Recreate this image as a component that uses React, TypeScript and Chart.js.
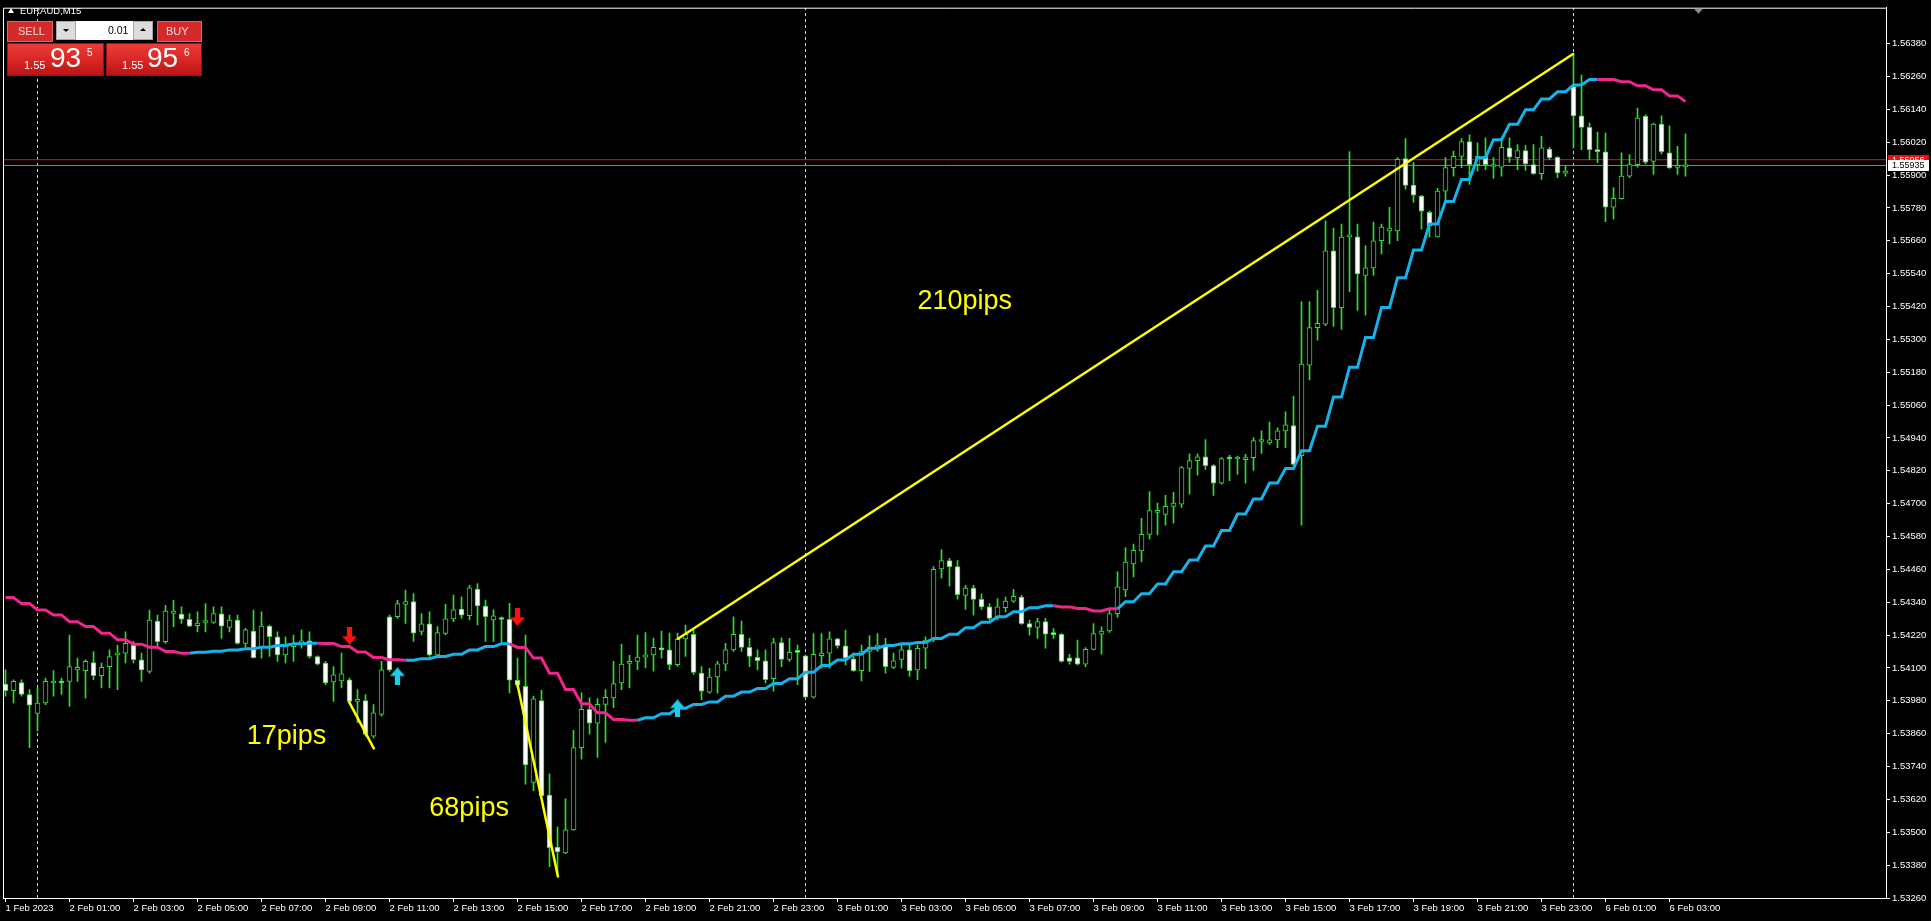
import React, { useEffect, useRef } from "react";
import { Chart, registerables } from "chart.js";

Chart.register(...registerables);

// ---------------- data (EURAUD M15, bar 0 = 1 Feb 23:00) ----------------
const opens = [
  1.54041, 1.54017, 1.54047, 1.54003, 1.53934, 1.53972, 1.54045, 1.54048, 1.54051, 1.54093,
  1.54090, 1.54120, 1.54072, 1.54105, 1.54148, 1.54154, 1.54184, 1.54130, 1.54087, 1.54271,
  1.54196, 1.54299, 1.54297, 1.54278, 1.54254, 1.54266, 1.54266, 1.54298, 1.54248, 1.54275,
  1.54190, 1.54235, 1.54174, 1.54253, 1.54214, 1.54148, 1.54178, 1.54187, 1.54199, 1.54142,
  1.54118, 1.54049, 1.54053, 1.54057, 1.53978, 1.53981, 1.53851, 1.53930, 1.54287, 1.54287,
  1.54332, 1.54342, 1.54233, 1.54261, 1.54148, 1.54226, 1.54279, 1.54315, 1.54291, 1.54388,
  1.54326, 1.54275, 1.54279, 1.54278, 1.54055, 1.54033, 1.53682, 1.53981, 1.53636, 1.53446,
  1.53425, 1.53509, 1.53809, 1.53949, 1.53898, 1.53967, 1.53991, 1.54045, 1.54117, 1.54124,
  1.54139, 1.54148, 1.54168, 1.54166, 1.54112, 1.54206, 1.54223, 1.54081, 1.54012, 1.54067,
  1.54114, 1.54166, 1.54223, 1.54175, 1.54139, 1.54126, 1.54061, 1.54193, 1.54131, 1.54159,
  1.54144, 1.53993, 1.54145, 1.54154, 1.54206, 1.54181, 1.54133, 1.54090, 1.54160, 1.54176,
  1.54178, 1.54102, 1.54131, 1.54166, 1.54093, 1.54172, 1.54202, 1.54462, 1.54492, 1.54470,
  1.54365, 1.54392, 1.54351, 1.54323, 1.54287, 1.54320, 1.54344, 1.54359, 1.54262, 1.54248,
  1.54269, 1.54224, 1.54223, 1.54137, 1.54137, 1.54114, 1.54168, 1.54223, 1.54235, 1.54298,
  1.54385, 1.54480, 1.54527, 1.54588, 1.54668, 1.54661, 1.54690, 1.54698, 1.54829, 1.54857,
  1.54871, 1.54839, 1.54775, 1.54865, 1.54863, 1.54861, 1.54868, 1.54927, 1.54922, 1.54933,
  1.54966, 1.54985, 1.54875, 1.55206, 1.55343, 1.55355, 1.55623, 1.55416, 1.55674, 1.55674,
  1.55533, 1.55561, 1.55660, 1.55696, 1.55696, 1.55960, 1.55863, 1.55823, 1.55764, 1.55674,
  1.55841, 1.55927, 1.55968, 1.56022, 1.55938, 1.55968, 1.55931, 1.55929, 1.55999, 1.55963,
  1.55989, 1.55938, 1.55905, 1.55995, 1.55965, 1.55907, 1.56223, 1.56116, 1.56074, 1.55993,
  1.55985, 1.55783, 1.55814, 1.55896, 1.55938, 1.56114, 1.55950, 1.56086, 1.55981, 1.55928,
  1.55930,
];

const highs = [
  1.54093, 1.54057, 1.54057, 1.54021, 1.54027, 1.54063, 1.54090, 1.54063, 1.54220, 1.54136,
  1.54130, 1.54160, 1.54118, 1.54166, 1.54184, 1.54232, 1.54196, 1.54154, 1.54311, 1.54293,
  1.54329, 1.54347, 1.54323, 1.54299, 1.54305, 1.54335, 1.54323, 1.54323, 1.54293, 1.54293,
  1.54245, 1.54311, 1.54305, 1.54257, 1.54232, 1.54214, 1.54220, 1.54239, 1.54232, 1.54144,
  1.54124, 1.54105, 1.54154, 1.54063, 1.54021, 1.54003, 1.53966, 1.54124, 1.54293, 1.54347,
  1.54384, 1.54372, 1.54299, 1.54305, 1.54251, 1.54332, 1.54366, 1.54360, 1.54402, 1.54408,
  1.54348, 1.54312, 1.54287, 1.54336, 1.54136, 1.54220, 1.53997, 1.54018, 1.53713, 1.53519,
  1.53622, 1.53872, 1.54009, 1.53991, 1.53988, 1.54021, 1.54124, 1.54187, 1.54146, 1.54220,
  1.54229, 1.54209, 1.54235, 1.54227, 1.54227, 1.54257, 1.54239, 1.54105, 1.54099, 1.54124,
  1.54190, 1.54287, 1.54271, 1.54208, 1.54166, 1.54166, 1.54208, 1.54210, 1.54208, 1.54184,
  1.54148, 1.54226, 1.54226, 1.54232, 1.54208, 1.54238, 1.54154, 1.54184, 1.54218, 1.54226,
  1.54208, 1.54154, 1.54184, 1.54184, 1.54184, 1.54214, 1.54470, 1.54532, 1.54500, 1.54492,
  1.54402, 1.54402, 1.54371, 1.54335, 1.54353, 1.54359, 1.54387, 1.54365, 1.54275, 1.54281,
  1.54281, 1.54244, 1.54226, 1.54150, 1.54202, 1.54174, 1.54262, 1.54250, 1.54317, 1.54451,
  1.54540, 1.54552, 1.54646, 1.54744, 1.54702, 1.54730, 1.54741, 1.54835, 1.54882, 1.54882,
  1.54934, 1.54843, 1.54868, 1.54876, 1.54874, 1.54880, 1.54941, 1.54966, 1.54998, 1.54977,
  1.55035, 1.55093, 1.55438, 1.55438, 1.55479, 1.55733, 1.55706, 1.55721, 1.55986, 1.55721,
  1.55642, 1.55728, 1.55721, 1.55782, 1.55964, 1.56033, 1.55946, 1.55826, 1.55768, 1.55851,
  1.55964, 1.55987, 1.56033, 1.56047, 1.56018, 1.56036, 1.55964, 1.56036, 1.56036, 1.56011,
  1.56008, 1.56011, 1.56041, 1.56001, 1.55967, 1.55932, 1.56344, 1.56265, 1.56090, 1.56057,
  1.56053, 1.55854, 1.55981, 1.55975, 1.56144, 1.56120, 1.56090, 1.56116, 1.56080, 1.56005,
  1.56050,
];

const lows = [
  1.53997, 1.53972, 1.53997, 1.53809, 1.53869, 1.53966, 1.53997, 1.54003, 1.53960, 1.54051,
  1.53990, 1.54057, 1.54027, 1.54027, 1.54021, 1.54118, 1.54118, 1.54051, 1.54081, 1.54172,
  1.54190, 1.54251, 1.54263, 1.54251, 1.54232, 1.54232, 1.54263, 1.54208, 1.54232, 1.54187,
  1.54178, 1.54136, 1.54136, 1.54142, 1.54124, 1.54118, 1.54124, 1.54172, 1.54136, 1.54111,
  1.54039, 1.53978, 1.54027, 1.53972, 1.53900, 1.53851, 1.53845, 1.53924, 1.54087, 1.54281,
  1.54263, 1.54197, 1.54221, 1.54142, 1.54142, 1.54221, 1.54269, 1.54281, 1.54275, 1.54257,
  1.54197, 1.54197, 1.54191, 1.54009, 1.54027, 1.53676, 1.53652, 1.53628, 1.53374, 1.53344,
  1.53422, 1.53507, 1.53767, 1.53858, 1.53773, 1.53828, 1.53955, 1.54021, 1.54027, 1.54094,
  1.54100, 1.54088, 1.54136, 1.54094, 1.54106, 1.54142, 1.54076, 1.53984, 1.54008, 1.54008,
  1.54090, 1.54160, 1.54160, 1.54105, 1.54093, 1.54045, 1.54015, 1.54105, 1.54124, 1.54039,
  1.53990, 1.53990, 1.54099, 1.54099, 1.54172, 1.54111, 1.54087, 1.54053, 1.54087, 1.54160,
  1.54081, 1.54097, 1.54099, 1.54069, 1.54057, 1.54097, 1.54196, 1.54428, 1.54399, 1.54351,
  1.54314, 1.54293, 1.54314, 1.54275, 1.54275, 1.54305, 1.54339, 1.54259, 1.54220, 1.54208,
  1.54172, 1.54208, 1.54121, 1.54114, 1.54111, 1.54105, 1.54166, 1.54150, 1.54230, 1.54285,
  1.54360, 1.54432, 1.54487, 1.54570, 1.54586, 1.54621, 1.54629, 1.54686, 1.54735, 1.54804,
  1.54825, 1.54730, 1.54771, 1.54784, 1.54807, 1.54775, 1.54821, 1.54883, 1.54916, 1.54904,
  1.54904, 1.54839, 1.54621, 1.55152, 1.55297, 1.55350, 1.55347, 1.55336, 1.55474, 1.55406,
  1.55388, 1.55533, 1.55612, 1.55648, 1.55660, 1.55848, 1.55800, 1.55702, 1.55673, 1.55673,
  1.55804, 1.55896, 1.55927, 1.55866, 1.55914, 1.55920, 1.55888, 1.55896, 1.55946, 1.55920,
  1.55917, 1.55902, 1.55884, 1.55957, 1.55890, 1.55896, 1.55999, 1.55993, 1.55957, 1.55945,
  1.55730, 1.55739, 1.55812, 1.55890, 1.55929, 1.55941, 1.55902, 1.55977, 1.55924, 1.55902,
  1.55896,
];

const closes = [
  1.54017, 1.54051, 1.54003, 1.53964, 1.53972, 1.54051, 1.54051, 1.54045, 1.54105, 1.54102,
  1.54124, 1.54072, 1.54102, 1.54142, 1.54154, 1.54190, 1.54130, 1.54093, 1.54275, 1.54196,
  1.54308, 1.54308, 1.54278, 1.54253, 1.54264, 1.54268, 1.54299, 1.54253, 1.54275, 1.54190,
  1.54239, 1.54138, 1.54253, 1.54214, 1.54148, 1.54178, 1.54190, 1.54199, 1.54142, 1.54114,
  1.54045, 1.54075, 1.54079, 1.53978, 1.53983, 1.53857, 1.53936, 1.54093, 1.54093, 1.54335,
  1.54342, 1.54227, 1.54261, 1.54148, 1.54229, 1.54279, 1.54312, 1.54293, 1.54393, 1.54327,
  1.54287, 1.54290, 1.54277, 1.54055, 1.54037, 1.53746, 1.53987, 1.53634, 1.53444, 1.53428,
  1.53509, 1.53809, 1.53949, 1.53898, 1.53967, 1.53993, 1.54043, 1.54114, 1.54124, 1.54140,
  1.54148, 1.54175, 1.54166, 1.54112, 1.54205, 1.54223, 1.54084, 1.54015, 1.54067, 1.54115,
  1.54166, 1.54223, 1.54175, 1.54142, 1.54127, 1.54057, 1.54193, 1.54131, 1.54157, 1.54157,
  1.53993, 1.54150, 1.54154, 1.54206, 1.54181, 1.54137, 1.54090, 1.54160, 1.54175, 1.54178,
  1.54105, 1.54126, 1.54166, 1.54090, 1.54172, 1.54202, 1.54460, 1.54492, 1.54470, 1.54368,
  1.54392, 1.54350, 1.54323, 1.54281, 1.54323, 1.54344, 1.54362, 1.54262, 1.54248, 1.54269,
  1.54223, 1.54222, 1.54124, 1.54124, 1.54114, 1.54168, 1.54226, 1.54235, 1.54299, 1.54396,
  1.54487, 1.54530, 1.54588, 1.54675, 1.54673, 1.54690, 1.54702, 1.54832, 1.54857, 1.54871,
  1.54839, 1.54775, 1.54865, 1.54863, 1.54866, 1.54868, 1.54930, 1.54929, 1.54933, 1.54966,
  1.54988, 1.54843, 1.55210, 1.55343, 1.55358, 1.55623, 1.55416, 1.55673, 1.55676, 1.55539,
  1.55561, 1.55660, 1.55710, 1.55706, 1.55957, 1.55862, 1.55826, 1.55768, 1.55714, 1.55841,
  1.55927, 1.55968, 1.56022, 1.55938, 1.55968, 1.55938, 1.55933, 1.56001, 1.55965, 1.55989,
  1.55941, 1.55905, 1.55999, 1.55963, 1.55908, 1.55909, 1.56116, 1.56074, 1.55993, 1.55985,
  1.55783, 1.55815, 1.55896, 1.55938, 1.56108, 1.55947, 1.56086, 1.55985, 1.55926, 1.55930,
  1.55935,
];

// moving average, one value per 30 minutes (two M15 bars)
const maHalfHour = [
  1.54357, 1.54335, 1.54312, 1.54293, 1.54269, 1.54251, 1.54227, 1.54203, 1.54187, 1.54176,
  1.54160, 1.54154, 1.54157, 1.54161, 1.54166, 1.54170, 1.54176, 1.54182, 1.54188, 1.54190,
  1.54189, 1.54178, 1.54158, 1.54138, 1.54130, 1.54128, 1.54134, 1.54142, 1.54150, 1.54166,
  1.54178, 1.54188, 1.54175, 1.54136, 1.54081, 1.54021, 1.53969, 1.53936, 1.53912, 1.53909,
  1.53918, 1.53933, 1.53953, 1.53967, 1.53976, 1.53997, 1.54012, 1.54025, 1.54043, 1.54061,
  1.54084, 1.54109, 1.54129, 1.54150, 1.54172, 1.54182, 1.54188, 1.54193, 1.54208, 1.54223,
  1.54247, 1.54267, 1.54287, 1.54305, 1.54320, 1.54327, 1.54323, 1.54317, 1.54308, 1.54316,
  1.54342, 1.54371, 1.54407, 1.54451, 1.54494, 1.54545, 1.54602, 1.54662, 1.54717, 1.54775,
  1.54828, 1.54893, 1.54983, 1.55089, 1.55198, 1.55307, 1.55416, 1.55525, 1.55626, 1.55721,
  1.55803, 1.55884, 1.55963, 1.56029, 1.56085, 1.56138, 1.56178, 1.56204, 1.56229, 1.56249,
  1.56249, 1.56241, 1.56226, 1.56211, 1.56189, 1.56168,
];
// bar index where the MA trend colour changes, and whether it is rising from there
const maTrendStarts = [0, 23, 39, 50, 63, 79, 131, 139, 199];
const maTrendUp = [false, true, false, true, false, true, false, true, false];

const priceTicks = [
  1.5326, 1.5338, 1.535, 1.5362, 1.5374, 1.5386, 1.5398, 1.541, 1.5422, 1.5434,
  1.5446, 1.5458, 1.547, 1.5482, 1.5494, 1.5506, 1.5518, 1.553, 1.5542, 1.5554,
  1.5566, 1.5578, 1.559, 1.5602, 1.5614, 1.5626, 1.5638,
];
const timeTickBars = [
  0, 8, 16, 24, 32, 40, 48, 56, 64, 72, 80, 88, 96, 104, 112, 120, 128, 136, 144,
  152, 160, 168, 176, 184, 192, 200, 208,
];
const timeLabels = [
  "1 Feb 2023", "2 Feb 01:00", "2 Feb 03:00", "2 Feb 05:00", "2 Feb 07:00", "2 Feb 09:00",
  "2 Feb 11:00", "2 Feb 13:00", "2 Feb 15:00", "2 Feb 17:00", "2 Feb 19:00", "2 Feb 21:00",
  "2 Feb 23:00", "3 Feb 01:00", "3 Feb 03:00", "3 Feb 05:00", "3 Feb 07:00", "3 Feb 09:00",
  "3 Feb 11:00", "3 Feb 13:00", "3 Feb 15:00", "3 Feb 17:00", "3 Feb 19:00", "3 Feb 21:00",
  "3 Feb 23:00", "6 Feb 01:00", "6 Feb 03:00",
];
const daySeparatorBars = [4, 100, 196];
const askPrice = 1.55956;
const bidPrice = 1.55935;

const trendLine17 = [{ x: 42.9, y: 1.53979 }, { x: 46.1, y: 1.53803 }];
const trendLine68 = [{ x: 63.96, y: 1.54045 }, { x: 69.08, y: 1.53335 }];
const trendLine210 = [{ x: 83.96, y: 1.54205 }, { x: 196.04, y: 1.56344 }];
const pipNotes = [
  { text: "17pips", x: 30.15, y: 1.53823 },
  { text: "68pips", x: 52.98, y: 1.53558 },
  { text: "210pips", x: 114.0, y: 1.5541 },
];
const sellSignals = [{ x: 43, y: 1.54218 }, { x: 64, y: 1.54287 }];
const buySignals = [{ x: 49, y: 1.54069 }, { x: 84, y: 1.53952 }];
const shiftMarkerBar = 211.5;

// ---------------- layout / style ----------------
const X_MIN = -0.3125;
const X_MAX = 235.0625;
const Y_MIN = 1.5326;
const Y_MAX = 1.56511;

const GREEN = "#2fdc2f";
const PINK = "#f0268c";
const BLUE = "#16b2ea";
const YELLOW = "#ffff00";
const AXIS_TEXT = "#ffffff";
const FONT = '"Liberation Sans", Arial, Helvetica, sans-serif';

function makeArrow(color: string, up: boolean) {
  const c = document.createElement("canvas");
  const w = 15;
  const h = 18;
  const headH = 8.5;
  const sh = 2.6;
  c.width = w;
  c.height = h;
  const g = c.getContext("2d") as CanvasRenderingContext2D;
  g.fillStyle = color;
  g.beginPath();
  if (up) {
    g.moveTo(w / 2, 0);
    g.lineTo(w, headH);
    g.lineTo(w / 2 + sh, headH);
    g.lineTo(w / 2 + sh, h);
    g.lineTo(w / 2 - sh, h);
    g.lineTo(w / 2 - sh, headH);
    g.lineTo(0, headH);
  } else {
    g.moveTo(w / 2, h);
    g.lineTo(w, h - headH);
    g.lineTo(w / 2 + sh, h - headH);
    g.lineTo(w / 2 + sh, 0);
    g.lineTo(w / 2 - sh, 0);
    g.lineTo(w / 2 - sh, h - headH);
    g.lineTo(0, h - headH);
  }
  g.closePath();
  g.fill();
  return c;
}

function trendUpAt(i: number) {
  let up = maTrendUp[0];
  for (let k = 0; k < maTrendStarts.length; k++) {
    if (i >= maTrendStarts[k]) up = maTrendUp[k];
  }
  return up;
}

const overlayPlugin = {
  id: "mt4Overlay",
  afterDatasetsDraw(chart: any) {
    const { ctx, scales } = chart;
    const xs = scales.x;
    const ys = scales.y;
    ctx.save();
    ctx.font = `27px ${FONT}`;
    ctx.fillStyle = YELLOW;
    ctx.textAlign = "left";
    ctx.textBaseline = "alphabetic";
    pipNotes.forEach((n) => {
      ctx.fillText(n.text, xs.getPixelForValue(n.x), ys.getPixelForValue(n.y));
    });
    ctx.restore();
  },
  afterDraw(chart: any) {
    const { ctx, chartArea: a, scales } = chart;
    const ys = scales.y;
    const xs = scales.x;
    ctx.save();
    ctx.strokeStyle = "#ffffff";
    ctx.lineWidth = 1;
    ctx.beginPath();
    ctx.moveTo(a.left + 0.5, a.bottom);
    ctx.lineTo(a.left + 0.5, a.top + 0.5);
    ctx.lineTo(a.right, a.top + 0.5);
    ctx.stroke();

    const tag = (price: number, bg: string, fg: string) => {
      const py = ys.getPixelForValue(price);
      ctx.fillStyle = bg;
      ctx.fillRect(a.right + 2, Math.round(py) - 5, 41, 11);
      ctx.fillStyle = fg;
      ctx.font = `9px ${FONT}`;
      ctx.textAlign = "left";
      ctx.textBaseline = "middle";
      ctx.fillText(price.toFixed(5), a.right + 6, Math.round(py) + 0.5);
    };
    tag(askPrice, "#e81010", "#ffffff");
    tag(bidPrice, "#ffffff", "#000000");

    const sx = Math.round(xs.getPixelForValue(shiftMarkerBar)) + 0.5;
    ctx.fillStyle = "#8a8a8a";
    ctx.beginPath();
    ctx.moveTo(sx - 4.5, a.top + 1);
    ctx.lineTo(sx + 4.5, a.top + 1);
    ctx.lineTo(sx, a.top + 6);
    ctx.closePath();
    ctx.fill();
    ctx.restore();
  },
};

function Txt(props: { x: number; base: number; size: number; color: string; children: any }) {
  const { x, base, size, color, children } = props;
  return (
    <div
      style={{
        position: "absolute",
        left: x,
        top: base - size * 0.8465,
        fontFamily: FONT,
        fontSize: size,
        lineHeight: `${size}px`,
        color,
        whiteSpace: "nowrap",
      }}
    >
      {children}
    </div>
  );
}

function Box(props: { x: number; y: number; w: number; h: number; style: any }) {
  const { x, y, w, h, style } = props;
  return (
    <div
      style={{
        position: "absolute",
        left: x,
        top: y,
        width: w,
        height: h,
        boxSizing: "border-box",
        ...style,
      }}
    />
  );
}

function Tri(props: { x: number; y: number; up: boolean; color: string; w: number; h: number }) {
  const { x, y, up, color, w, h } = props;
  const s: any = {
    position: "absolute",
    left: x,
    top: y,
    width: 0,
    height: 0,
    borderLeft: `${w / 2}px solid transparent`,
    borderRight: `${w / 2}px solid transparent`,
  };
  if (up) s.borderBottom = `${h}px solid ${color}`;
  else s.borderTop = `${h}px solid ${color}`;
  return <div style={s} />;
}

function TradePanel() {
  const btn = { background: "#d42a2a", border: "1px solid #e86060" };
  const spin = { background: "#dcdcdc", border: "1px solid #a8a8a8" };
  const price = {
    background: "linear-gradient(to bottom, #ec3c37 0%, #d82525 55%, #bb1414 100%)",
    border: "1px solid #a01010",
  };
  return (
    <>
      <Tri x={8} y={8} up={true} color="#ffffff" w={7} h={5} />
      <Txt x={20} base={14} size={9.5} color="#ffffff">EURAUD,M15</Txt>

      <Box x={7} y={21} w={46} h={21} style={btn} />
      <Txt x={18} base={35} size={11} color="#f5d8d8">SELL</Txt>

      <Box x={56} y={21} w={20} h={19} style={spin} />
      <Tri x={63} y={29} up={false} color="#000000" w={6} h={3.5} />
      <Box x={76} y={21} w={57} h={19} style={{ background: "#ffffff" }} />
      <Txt x={108} base={34} size={10.5} color="#000000">0.01</Txt>
      <Box x={133} y={21} w={20} h={19} style={spin} />
      <Tri x={140} y={28} up={true} color="#000000" w={6} h={3.5} />

      <Box x={157} y={21} w={45} h={21} style={btn} />
      <Txt x={166} base={35} size={11} color="#f5d8d8">BUY</Txt>

      <Box x={7} y={43} w={97} h={33} style={price} />
      <Txt x={24} base={69} size={11} color="#ffffff">1.55</Txt>
      <Txt x={50} base={68} size={28} color="#ffffff">93</Txt>
      <Txt x={87} base={56} size={10} color="#ffffff">5</Txt>

      <Box x={106} y={43} w={96} h={33} style={price} />
      <Txt x={122} base={69} size={11} color="#ffffff">1.55</Txt>
      <Txt x={147} base={68} size={28} color="#ffffff">95</Txt>
      <Txt x={184} base={56} size={10} color="#ffffff">6</Txt>
    </>
  );
}

export default function App() {
  const canvasRef = useRef<HTMLCanvasElement | null>(null);

  useEffect(() => {
    const canvas = canvasRef.current;
    if (!canvas) return;

    const wicks = highs.map((h, i) => ({ x: i, y: [lows[i], h] }));
    const bodies = opens.map((o, i) => ({ x: i, y: [o, closes[i]] }));
    const bodyColors = opens.map((o, i) => (closes[i] < o ? "#ffffff" : "#000000"));
    const maPoints = opens.map((_, i) => ({ x: i, y: maHalfHour[Math.floor(i / 2)] }));

    const lineBase = { type: "line", pointRadius: 0, pointHoverRadius: 0, tension: 0, fill: false };

    const datasets: any[] = [
      ...daySeparatorBars.map((b) => ({
        ...lineBase,
        data: [{ x: b, y: Y_MIN }, { x: b, y: Y_MAX }],
        borderColor: "#d4d4d4",
        borderWidth: 1,
        borderDash: [3, 3],
        order: 10,
      })),
      {
        ...lineBase,
        data: [{ x: X_MIN, y: askPrice }, { x: X_MAX, y: askPrice }],
        borderColor: "#e01010",
        borderWidth: 1,
        order: 9,
      },
      {
        ...lineBase,
        data: [{ x: X_MIN, y: bidPrice }, { x: X_MAX, y: bidPrice }],
        borderColor: "#7d8a99",
        borderWidth: 1,
        order: 9,
      },
      {
        type: "bar",
        data: wicks,
        backgroundColor: GREEN,
        borderWidth: 0,
        barThickness: 1,
        grouped: false,
        order: 8,
      },
      {
        type: "bar",
        data: bodies,
        backgroundColor: bodyColors,
        borderColor: GREEN,
        borderWidth: 1,
        borderSkipped: false,
        barThickness: 5,
        minBarLength: 2,
        grouped: false,
        order: 7,
      },
      {
        ...lineBase,
        data: maPoints,
        borderWidth: 3,
        borderColor: PINK,
        segment: {
          borderColor: (c: any) => (trendUpAt(c.p0DataIndex) ? BLUE : PINK),
        },
        order: 5,
      },
      ...[trendLine17, trendLine68, trendLine210].map((t) => ({
        ...lineBase,
        data: t,
        borderColor: YELLOW,
        borderWidth: 2.5,
        order: 4,
      })),
      {
        type: "scatter",
        data: sellSignals,
        pointStyle: makeArrow("#ff1010", false),
        pointRadius: 9,
        order: 3,
      },
      {
        type: "scatter",
        data: buySignals,
        pointStyle: makeArrow("#1ccde9", true),
        pointRadius: 9,
        order: 3,
      },
    ];

    const tickFont = { family: FONT, size: 9.5 };

    const chart = new Chart(canvas, {
      type: "bar",
      data: { datasets },
      options: {
        animation: false,
        responsive: false,
        devicePixelRatio: 1,
        events: [],
        layout: { padding: { left: 3, top: 2, right: 0, bottom: 0 }, autoPadding: false },
        plugins: { legend: { display: false }, tooltip: { enabled: false } },
        scales: {
          x: {
            type: "linear",
            min: X_MIN,
            max: X_MAX,
            bounds: "data",
            offset: false,
            afterBuildTicks: (s: any) => {
              s.ticks = timeTickBars.map((v) => ({ value: v }));
            },
            afterFit: (s: any) => {
              s.height = 23;
            },
            ticks: {
              autoSkip: false,
              maxRotation: 0,
              minRotation: 0,
              align: "start",
              padding: 1,
              color: AXIS_TEXT,
              font: tickFont,
              callback: (_v: any, i: number) => timeLabels[i] ?? "",
            },
            grid: {
              display: true,
              drawOnChartArea: false,
              drawTicks: true,
              tickLength: 4,
              color: "#ffffff",
              offset: false,
            },
            border: { display: true, color: "#ffffff", width: 1 },
          },
          y: {
            type: "linear",
            position: "right",
            min: Y_MIN,
            max: Y_MAX,
            bounds: "data",
            afterBuildTicks: (s: any) => {
              s.ticks = priceTicks.map((v) => ({ value: v }));
            },
            afterFit: (s: any) => {
              s.width = 45;
            },
            ticks: {
              autoSkip: false,
              padding: 2,
              color: AXIS_TEXT,
              font: tickFont,
              callback: (v: any) => Number(v).toFixed(5),
            },
            grid: {
              display: true,
              drawOnChartArea: false,
              drawTicks: true,
              tickLength: 4,
              color: "#ffffff",
            },
            border: { display: true, color: "#ffffff", width: 1 },
          },
        },
      },
      plugins: [overlayPlugin],
    } as any);

    return () => chart.destroy();
  }, []);

  return (
    <div
      style={{
        position: "fixed",
        left: 0,
        top: 0,
        width: 1931,
        height: 921,
        background: "#000000",
        overflow: "hidden",
      }}
    >
      <canvas ref={canvasRef} width={1931} height={921} style={{ display: "block" }} />
      <TradePanel />
    </div>
  );
}
